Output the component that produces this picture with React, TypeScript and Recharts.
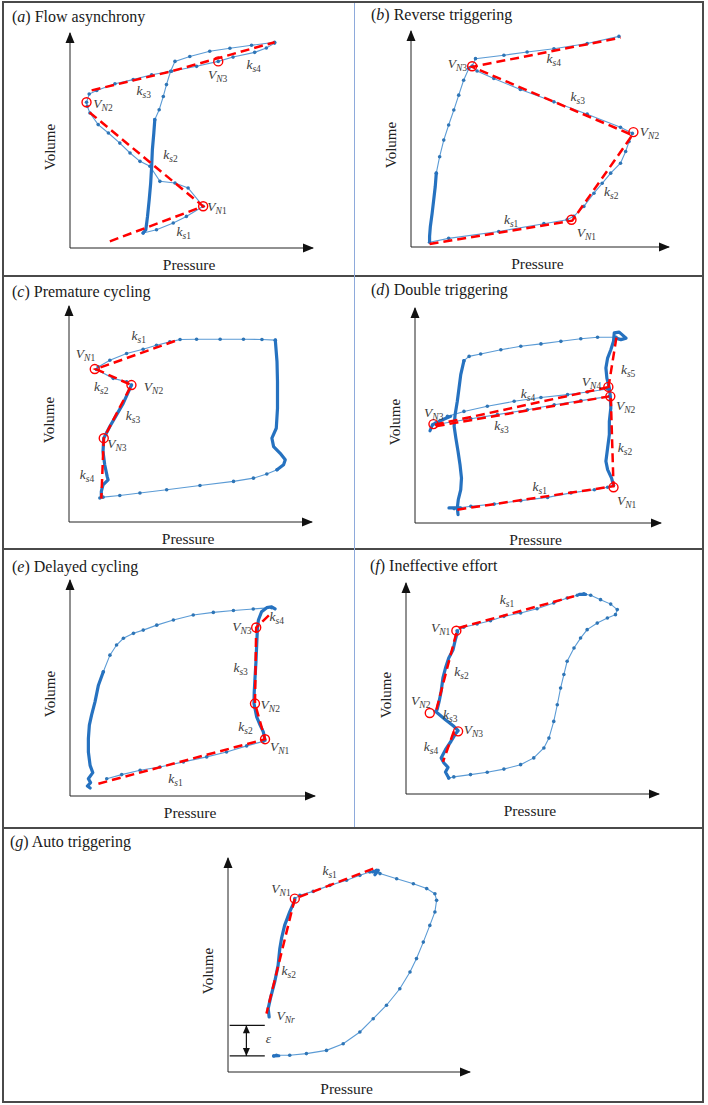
import React from "react";
import { ScatterChart, Scatter, XAxis, YAxis, ReferenceDot, ReferenceLine } from "recharts";

type Pt = { x: number; y: number };
type Tag = { x: number; y: number; t: string; s: string; n: string; end?: boolean };

const P = (a: number[][]): Pt[] => a.map(([x, y]) => ({ x, y }));

// (a) Flow asynchrony
const aThin = [
  P([[30.1, 7.0], [35.6, 8.5], [42.5, 11.6], [47.9, 14.7], [54.8, 19.4], [48.6, 27.9], [43.2, 30.2], [37.0, 31.0], [32.9, 38.0], [28.8, 40.3], [24.7, 44.2], [20.5, 48.8], [15.8, 53.5], [11.6, 57.4], [8.2, 62.8], [7.1, 65.9], [6.8, 67.8], [7.9, 71.6], [11.0, 73.3], [18.5, 76.4], [26.0, 78.3], [33.6, 80.6], [41.8, 82.2], [52.1, 84.5], [61.0, 86.8], [67.1, 88.8], [76.0, 91.0], [80.8, 93.0], [84.2, 95.3]]),
  P([[84.2, 95.7], [74.7, 94.3], [65.8, 92.9], [57.5, 91.5], [49.3, 89.1], [43.2, 86.8], [41.4, 82.2], [39.7, 76.0], [38.4, 70.5], [36.7, 64.3], [34.9, 59.7]]),
];
const aThick = [
  P([[34.9, 59.7], [34.5, 53.5], [33.9, 45.7], [33.6, 38.0], [33.2, 30.2], [32.6, 22.5], [31.9, 14.7], [31.2, 8.5], [30.1, 7.0]]),
];
const aRed = [
  P([[16.4, 3.1], [54.8, 19.4], [7.5, 63.6]]),
  P([[8.9, 73.3], [41.8, 82.2], [84.2, 95.7]]),
];
const aNodes = P([[54.8, 19.4], [6.8, 67.8], [61.0, 86.8]]);
const aTags: Tag[] = [
  { x: 56.5, y: 19.4, t: "V", s: "N", n: "1" },
  { x: 9.6, y: 67.4, t: "V", s: "N", n: "2" },
  { x: 56.8, y: 80.6, t: "V", s: "N", n: "3" },
  { x: 43.8, y: 7.8, t: "k", s: "s", n: "1" },
  { x: 38.4, y: 43.4, t: "k", s: "s", n: "2" },
  { x: 27.4, y: 73.3, t: "k", s: "s", n: "3" },
  { x: 72.6, y: 85.3, t: "k", s: "s", n: "4" },
];

// (b) Reverse triggering
const bThin = [
  P([[7.2, 2.2], [14.6, 4.0], [34.0, 7.2], [51.5, 10.8], [60.5, 12.6], [63.1, 14.2], [67.0, 18.8], [70.9, 24.9], [74.1, 29.5], [77.4, 34.2], [81.2, 38.8], [83.2, 44.2], [84.5, 48.8], [85.8, 52.6], [81.2, 55.4], [68.3, 61.5], [55.4, 67.2], [42.4, 72.9], [32.1, 78.0], [25.6, 81.5], [23.7, 83.7], [25.0, 87.2], [36.0, 88.8], [45.0, 90.3], [55.4, 91.8], [68.3, 94.2], [80.6, 97.5]]),
  P([[23.7, 83.7], [22.4, 82.6], [20.4, 77.2], [18.5, 70.3], [16.6, 63.4], [14.6, 56.5], [12.7, 49.5], [11.1, 41.8], [9.8, 34.2]]),
];
const bThick = [
  P([[9.8, 34.2], [9.4, 28.0], [8.8, 21.8], [8.2, 15.7], [7.5, 9.5], [7.2, 4.9], [7.2, 2.6]]),
];
const bRed = [P([[7.2, 1.4], [62.5, 12.2], [85.8, 51.8], [23.7, 83.4], [81.2, 96.9]])];
const bNodes = P([[62.2, 12.6], [86.2, 53.2], [23.7, 83.7]]);
const bTags: Tag[] = [
  { x: 21.7, y: 84.9, t: "V", s: "N", n: "3", end: true },
  { x: 88.7, y: 53.4, t: "V", s: "N", n: "2" },
  { x: 64.2, y: 6.5, t: "V", s: "N", n: "1" },
  { x: 36.0, y: 12.6, t: "k", s: "s", n: "1" },
  { x: 74.8, y: 25.7, t: "k", s: "s", n: "2" },
  { x: 61.8, y: 69.5, t: "k", s: "s", n: "3" },
  { x: 52.5, y: 87.2, t: "k", s: "s", n: "4" },
];

// (c) Premature cycling
const cThin = [
  P([[12.0, 71.8], [16.8, 74.9], [23.7, 78.0], [30.5, 80.0], [36.0, 81.8], [41.5, 83.4], [45.7, 84.5], [52.5, 84.6], [62.2, 84.6], [71.8, 84.6], [79.4, 84.5], [84.9, 84.2]]),
  P([[85.6, 24.2], [81.4, 22.2], [75.9, 20.3], [67.7, 18.8], [53.9, 16.9], [40.2, 14.9], [29.2, 13.4], [20.9, 12.3], [14.0, 11.5], [12.7, 11.1]]),
  P([[11.3, 70.6], [18.2, 66.5], [23.7, 64.9], [25.7, 63.4]]),
];
const cThick = [
  P([[84.9, 84.2], [85.6, 74.2], [85.8, 64.9], [85.8, 52.6], [85.3, 43.4], [83.5, 38.8], [84.2, 34.9], [86.9, 31.8], [89.0, 28.8], [88.3, 26.5], [85.6, 24.2]]),
  P([[25.7, 63.4], [22.3, 54.9], [19.5, 49.5], [16.8, 44.2], [14.3, 38.8], [14.0, 32.6], [14.7, 26.5], [15.7, 21.1], [16.1, 19.5], [14.0, 17.2], [13.3, 14.2], [13.3, 12.0]]),
];
const cRed = [P([[43.6, 83.8], [11.0, 70.8], [25.7, 63.4], [14.3, 38.8], [13.3, 10.8]])];
const cNodes = P([[10.6, 70.8], [25.7, 63.4], [14.3, 38.8]]);
const cTags: Tag[] = [
  { x: 25.7, y: 86.5, t: "k", s: "s", n: "1" },
  { x: 2.8, y: 78.0, t: "V", s: "N", n: "1" },
  { x: 10.3, y: 62.6, t: "k", s: "s", n: "2" },
  { x: 30.8, y: 62.9, t: "V", s: "N", n: "2" },
  { x: 23.4, y: 49.5, t: "k", s: "s", n: "3" },
  { x: 15.7, y: 36.2, t: "V", s: "N", n: "3" },
  { x: 4.4, y: 22.2, t: "k", s: "s", n: "4" },
];

// (d) Double triggering
const dThin = [
  P([[15.9, 6.7], [22.7, 7.8], [32.2, 8.8], [43.0, 10.4], [53.9, 11.9], [63.4, 14.0], [72.9, 15.5], [78.3, 16.6], [80.7, 17.5]]),
  P([[81.7, 86.4], [74.2, 86.4], [67.4, 85.7], [59.3, 84.5], [51.2, 83.3], [43.0, 82.2], [34.9, 80.6], [26.7, 78.6], [22.0, 77.5], [19.9, 75.5]]),
  P([[8.4, 46.5], [13.2, 49.6], [19.9, 51.9], [29.4, 54.3], [40.3, 56.6], [51.2, 58.4], [62.0, 59.7], [70.1, 60.9], [78.3, 62.3]]),
  P([[10.4, 46.2], [22.7, 48.5], [33.5, 50.4], [45.7, 52.7], [56.6, 55.0], [67.4, 56.9], [79.0, 58.9]]),
];
const dThick = [
  P([[80.7, 17.5], [79.9, 20.9], [78.3, 24.8], [77.6, 28.7], [78.3, 34.9], [79.0, 41.1], [79.0, 47.3], [79.6, 53.5], [79.4, 58.9], [79.0, 62.8], [78.0, 67.4], [77.6, 72.1], [78.3, 76.7], [79.6, 80.6], [80.7, 84.5], [81.0, 88.4], [83.0, 88.8], [85.8, 86.0], [83.7, 85.3], [81.7, 86.0]]),
  P([[19.9, 75.5], [18.6, 69.0], [17.9, 62.8], [17.2, 56.6], [16.3, 50.4], [15.9, 45.0], [16.6, 39.5], [17.5, 33.3], [18.3, 27.1], [18.9, 20.9], [18.6, 15.5], [17.6, 10.9], [17.2, 7.0], [17.5, 3.9]]),
  P([[13.8, 7.0], [18.6, 7.0]]),
  P([[6.1, 42.9], [7.1, 45.7], [9.8, 47.3], [14.5, 49.6]]),
];
const dRed = [
  P([[17.2, 6.2], [80.7, 17.1], [79.6, 58.1]]),
  P([[78.6, 62.8], [82.1, 87.9]]),
  P([[8.1, 45.7], [78.3, 63.1]]),
  P([[8.4, 45.0], [79.0, 58.9]]),
];
const dNodes = P([[80.7, 16.6], [79.4, 58.9], [7.5, 46.0], [78.6, 63.3]]);
const dTags: Tag[] = [
  { x: 47.8, y: 17.1, t: "k", s: "s", n: "1" },
  { x: 82.1, y: 10.4, t: "V", s: "N", n: "1" },
  { x: 82.4, y: 34.9, t: "k", s: "s", n: "2" },
  { x: 81.7, y: 54.7, t: "V", s: "N", n: "2" },
  { x: 83.7, y: 71.3, t: "k", s: "s", n: "5" },
  { x: 67.8, y: 65.6, t: "V", s: "N", n: "4" },
  { x: 43.0, y: 60.2, t: "k", s: "s", n: "4" },
  { x: 32.2, y: 45.4, t: "k", s: "s", n: "3" },
  { x: 3.7, y: 51.2, t: "V", s: "N", n: "3" },
];

// (e) Delayed cycling
const eThin = [
  P([[15.0, 8.0], [21.1, 9.9], [28.6, 11.9], [36.7, 13.4], [46.3, 15.8], [55.8, 18.1], [63.9, 20.4], [72.1, 23.2], [78.9, 25.3]]),
  P([[82.3, 87.2], [74.8, 86.6], [66.7, 85.9], [58.5, 85.0], [50.3, 83.8], [42.2, 81.5], [35.4, 79.1], [29.9, 76.8], [25.9, 75.3], [21.8, 73.0], [19.0, 69.9], [16.3, 65.2], [13.6, 57.5]]),
];
const eThick = [
  P([[79.6, 25.8], [78.9, 29.7], [77.6, 32.8], [76.2, 36.6], [75.5, 40.5], [75.1, 42.8], [75.2, 48.2], [75.5, 54.4], [75.9, 62.1], [76.2, 69.9], [76.5, 77.6], [76.9, 81.5], [78.2, 85.3], [80.3, 87.2], [82.3, 87.6], [83.7, 86.6]]),
  P([[13.6, 57.5], [11.6, 51.3], [10.2, 43.6], [8.8, 37.4], [7.9, 32.8], [7.5, 26.6], [7.5, 20.4], [8.2, 14.2], [9.3, 10.8], [7.5, 8.0], [8.4, 6.2], [7.1, 4.6], [8.2, 3.7]]),
];
const eRed = [P([[11.6, 5.7], [79.6, 26.3], [75.5, 42.8], [76.0, 78.0], [82.0, 84.5]])];
const eNodes = P([[79.6, 26.3], [75.5, 42.8], [76.0, 78.0]]);
const eTags: Tag[] = [
  { x: 40.1, y: 8.0, t: "k", s: "s", n: "1" },
  { x: 81.6, y: 22.7, t: "V", s: "N", n: "1" },
  { x: 68.7, y: 32.0, t: "k", s: "s", n: "2" },
  { x: 77.8, y: 42.3, t: "V", s: "N", n: "2" },
  { x: 66.7, y: 59.4, t: "k", s: "s", n: "3" },
  { x: 74.1, y: 78.4, t: "V", s: "N", n: "3", end: true },
  { x: 81.4, y: 83.0, t: "k", s: "s", n: "4" },
];

// (f) Ineffective effort
const fThin = [
  P([[20.2, 77.4], [22.8, 79.0], [28.1, 80.6], [33.4, 82.1], [38.7, 84.2], [45.3, 85.8], [51.8, 87.8], [58.4, 90.5], [63.7, 92.9], [67.7, 94.2], [70.3, 94.8]]),
  P([[70.3, 94.8], [73.0, 94.2], [76.9, 92.1], [80.9, 90.0], [83.5, 87.4], [82.8, 85.0], [79.6, 83.4], [75.6, 81.0], [71.6, 77.9], [69.0, 73.9], [66.4, 69.2], [63.7, 62.9], [62.4, 56.6], [61.1, 50.2], [59.8, 42.3], [58.4, 34.4], [56.5, 26.5], [54.5, 21.8], [50.5, 17.1], [45.3, 13.9], [38.7, 11.8], [32.1, 10.3], [25.5, 9.2], [18.9, 8.1], [16.9, 7.6]]),
];
const fThick = [
  P([[20.4, 77.1], [19.5, 73.1], [18.6, 68.4], [16.9, 64.5], [15.6, 59.7], [14.6, 55.0], [13.9, 48.7], [13.1, 43.9], [12.3, 40.0], [11.6, 39.2], [15.6, 35.2], [18.9, 32.1], [20.6, 30.0], [19.5, 28.4], [17.8, 25.0], [15.6, 21.0], [13.9, 17.1], [15.0, 14.7], [16.6, 12.6], [15.6, 10.4], [16.9, 7.6]]),
  P([[68.5, 94.6], [71.0, 94.6]]),
];
const fRed = [
  P([[20.8, 78.7], [66.4, 93.7]]),
  P([[19.9, 76.3], [12.0, 40.0]]),
  P([[18.9, 29.7], [14.6, 15.2]]),
];
const fNodes = P([[19.9, 77.4], [9.4, 38.4], [20.6, 29.7]]);
const fTags: Tag[] = [
  { x: 37.1, y: 92.1, t: "k", s: "s", n: "1" },
  { x: 17.5, y: 79.0, t: "V", s: "N", n: "1", end: true },
  { x: 19.1, y: 58.1, t: "k", s: "s", n: "2" },
  { x: 2.0, y: 44.2, t: "V", s: "N", n: "2" },
  { x: 14.6, y: 37.6, t: "k", s: "s", n: "3" },
  { x: 22.8, y: 30.5, t: "V", s: "N", n: "3" },
  { x: 7.0, y: 22.6, t: "k", s: "s", n: "4" },
];

// (g) Auto triggering
const gThin = [
  P([[27.6, 81.0], [29.7, 82.6], [35.2, 84.4], [42.1, 87.2], [49.0, 89.6], [54.5, 91.9], [58.6, 93.5], [61.4, 94.2]]),
  P([[61.4, 93.8], [62.8, 92.7], [69.7, 90.3], [76.6, 88.0], [82.1, 85.7], [85.5, 83.3], [86.2, 80.2], [85.5, 74.8], [83.4, 68.5], [80.7, 60.7], [77.9, 53.0], [75.2, 46.7], [71.0, 38.9], [65.5, 31.2], [60.0, 24.9], [54.5, 18.7], [47.6, 13.2], [40.7, 10.1], [32.4, 8.6], [25.5, 7.8], [20.0, 7.8], [18.9, 7.5]]),
];
const gThick = [
  P([[17.0, 25.7], [16.6, 29.6], [17.5, 34.3], [19.3, 42.1], [20.7, 49.8], [21.4, 57.6], [22.1, 62.3], [23.4, 68.5], [25.5, 74.8], [27.6, 80.2]]),
  P([[59.7, 93.5], [62.1, 94.2], [60.7, 92.2]]),
  P([[18.9, 7.5], [21.0, 7.6]]),
];
const gRed = [P([[60.0, 95.0], [27.6, 81.0], [15.9, 27.3]])];
const gNodes = P([[27.6, 81.0]]);
const gTags: Tag[] = [
  { x: 39.0, y: 94.2, t: "k", s: "s", n: "1" },
  { x: 17.9, y: 85.7, t: "V", s: "N", n: "1" },
  { x: 22.1, y: 47.5, t: "k", s: "s", n: "2" },
  { x: 20.0, y: 26.5, t: "V", s: "Nr", n: "" },
  { x: 15.6, y: 15.6, t: "ε", s: "", n: "" },
];
const gEpsLevels = [21.8, 7.5];
const gEpsSpan = [0.7, 15.2];
const gEpsAt = 7.6;

const SERIF = "'Liberation Serif', Tinos, 'Times New Roman', 'DejaVu Serif', serif";
const THIN = "#5b9bd5";
const DOT = "#2e75b6";
const THICK = "#2672c0";
const RED = "#ff0000";
const AXIS = "#222";
const ML = 40, MR = 30, MT = 14, MB = 30;

type Layout = { ox: number; oy: number; xe: number; ye: number; tx: number; ty: number };
type PanelData = { letter: string; name: string; thin: Pt[][]; thick: Pt[][]; red: Pt[][]; nodes: Pt[]; tags: Tag[] };

const dotShape = (p: any) => <circle cx={p.cx} cy={p.cy} r={1.8} fill={DOT} />;
const noShape = () => <g />;
const nodeShape = (p: any) => <circle cx={p.cx} cy={p.cy} r={4.5} fill="none" stroke={RED} strokeWidth={1.4} />;
const tagShape = (p: any) => {
  const d = p.payload as Tag;
  return (
    <text x={p.cx} y={p.cy} dy="0.33em" textAnchor={d.end ? "end" : "start"} fontFamily={SERIF} fontSize={13.5} fill="#3c3c3c">
      <tspan fontStyle="italic">{d.t}</tspan>
      {d.s || d.n ? (
        <tspan fontSize={9.5} dy={3}>
          <tspan fontStyle="italic">{d.s}</tspan>
          {d.n}
        </tspan>
      ) : null}
    </text>
  );
};
const arrowRight = (p: any) => <path d={`M${p.cx + 1},${p.cy} l-11,-4.5 l0,9 z`} fill="#111" />;
const arrowUp = (p: any) => <path d={`M${p.cx},${p.cy - 1} l-4.5,11 l9,0 z`} fill="#111" />;
const arrowUpSmall = (p: any) => <path d={`M${p.cx},${p.cy} l-3.5,8 l7,0 z`} fill="#111" />;
const arrowDownSmall = (p: any) => <path d={`M${p.cx},${p.cy} l-3.5,-8 l7,0 z`} fill="#111" />;

function Panel({ d, L, extra }: { d: PanelData; L: Layout; extra?: React.ReactNode[] }) {
  const w = L.xe - L.ox + ML + MR;
  const h = L.oy - L.ye + MT + MB;
  return (
    <>
      <div style={{ position: "absolute", left: L.tx, top: L.ty - 9, fontSize: 16, lineHeight: "18px", color: "#1a1a1a", whiteSpace: "nowrap" }}>
        (<i>{d.letter}</i>) {d.name}
      </div>
      <div style={{ position: "absolute", left: L.ox - 20, top: L.ye + (L.oy - L.ye) * 0.53, transform: "translate(-50%,-50%) rotate(-90deg)", fontSize: 15, color: "#222", whiteSpace: "nowrap" }}>
        Volume
      </div>
      <div style={{ position: "absolute", left: L.ox + (L.xe - L.ox) * 0.49, top: L.oy + 17, transform: "translate(-50%,-50%)", fontSize: 15.5, color: "#222", whiteSpace: "nowrap" }}>
        Pressure
      </div>
      <div style={{ position: "absolute", left: L.ox - ML, top: L.ye - MT }}>
        <ScatterChart width={w} height={h} margin={{ top: MT, right: MR, bottom: MB, left: ML }}>
          <XAxis type="number" dataKey="x" domain={[0, 100]} hide />
          <YAxis type="number" dataKey="y" domain={[0, 100]} hide />
          <ReferenceLine segment={[{ x: 0, y: 0 }, { x: 100, y: 0 }]} stroke={AXIS} strokeWidth={1} ifOverflow="visible" />
          <ReferenceLine segment={[{ x: 0, y: 0 }, { x: 0, y: 100 }]} stroke={AXIS} strokeWidth={1} ifOverflow="visible" />
          <ReferenceDot x={100} y={0} ifOverflow="visible" shape={arrowRight} />
          <ReferenceDot x={0} y={100} ifOverflow="visible" shape={arrowUp} />
          {d.thin.map((s, i) => (
            <Scatter key={"t" + i} data={s} line={{ stroke: THIN, strokeWidth: 1.1 }} lineType="joint" shape={dotShape} isAnimationActive={false} />
          ))}
          {d.thick.map((s, i) => (
            <Scatter key={"k" + i} data={s} line={{ stroke: THICK, strokeWidth: 3.2, strokeLinejoin: "round", strokeLinecap: "round" }} lineType="joint" shape={noShape} isAnimationActive={false} />
          ))}
          {d.red.map((s, i) => (
            <Scatter key={"r" + i} data={s} line={{ stroke: RED, strokeWidth: 2.5, strokeDasharray: "9 5" }} lineType="joint" shape={noShape} isAnimationActive={false} />
          ))}
          <Scatter data={d.nodes} shape={nodeShape} isAnimationActive={false} />
          <Scatter data={d.tags} shape={tagShape} isAnimationActive={false} />
          {extra}
        </ScatterChart>
      </div>
    </>
  );
}

const epsExtra = [
  ...gEpsLevels.map((v, i) => (
    <ReferenceLine key={"el" + i} segment={[{ x: gEpsSpan[0], y: v }, { x: gEpsSpan[1], y: v }]} stroke="#111" strokeWidth={1.3} ifOverflow="visible" />
  )),
  <ReferenceLine key="es" segment={[{ x: gEpsAt, y: gEpsLevels[0] }, { x: gEpsAt, y: gEpsLevels[1] }]} stroke="#111" strokeWidth={1.2} ifOverflow="visible" />,
  <ReferenceDot key="eu" x={gEpsAt} y={gEpsLevels[0]} ifOverflow="visible" shape={arrowUpSmall} />,
  <ReferenceDot key="ed" x={gEpsAt} y={gEpsLevels[1]} ifOverflow="visible" shape={arrowDownSmall} />,
];

const panels: { d: PanelData; L: Layout; extra?: React.ReactNode[] }[] = [
  { d: { letter: "a", name: "Flow asynchrony", thin: aThin, thick: aThick, red: aRed, nodes: aNodes, tags: aTags }, L: { ox: 70, oy: 248, xe: 313, ye: 33, tx: 12, ty: 17 } },
  { d: { letter: "b", name: "Reverse triggering", thin: bThin, thick: bThick, red: bRed, nodes: bNodes, tags: bTags }, L: { ox: 411, oy: 247, xe: 669, ye: 31, tx: 371, ty: 15 } },
  { d: { letter: "c", name: "Premature cycling", thin: cThin, thick: cThick, red: cRed, nodes: cNodes, tags: cTags }, L: { ox: 69, oy: 522, xe: 312, ye: 306, tx: 12, ty: 292 } },
  { d: { letter: "d", name: "Double triggering", thin: dThin, thick: dThick, red: dRed, nodes: dNodes, tags: dTags }, L: { ox: 415, oy: 523, xe: 661, ye: 308, tx: 371, ty: 290 } },
  { d: { letter: "e", name: "Delayed cycling", thin: eThin, thick: eThick, red: eRed, nodes: eNodes, tags: eTags }, L: { ox: 70, oy: 796, xe: 315, ye: 580, tx: 12, ty: 567 } },
  { d: { letter: "f", name: "Ineffective effort", thin: fThin, thick: fThick, red: fRed, nodes: fNodes, tags: fTags }, L: { ox: 406, oy: 794, xe: 659, ye: 583, tx: 370, ty: 566 } },
  { d: { letter: "g", name: "Auto triggering", thin: gThin, thick: gThick, red: gRed, nodes: gNodes, tags: gTags }, L: { ox: 228, oy: 1072, xe: 470, ye: 858, tx: 10, ty: 842 }, extra: epsExtra },
];

export default function App() {
  return (
    <div style={{ position: "relative", width: 708, height: 1105, background: "#fff", fontFamily: SERIF, overflow: "hidden" }}>
      <style>{"body{margin:0}"}</style>
      <div style={{ position: "absolute", left: 2, top: 1, width: 702, height: 1102, border: "2px solid #4a4a4a", boxSizing: "border-box" }} />
      {[275, 548, 827].map((y) => (
        <div key={y} style={{ position: "absolute", left: 2, top: y, width: 702, height: 2, background: "#4a4a4a" }} />
      ))}
      <div style={{ position: "absolute", left: 354, top: 3, width: 1, height: 824, background: "#8eaadb" }} />
      {panels.map((p) => (
        <Panel key={p.d.letter} d={p.d} L={p.L} extra={p.extra} />
      ))}
    </div>
  );
}
